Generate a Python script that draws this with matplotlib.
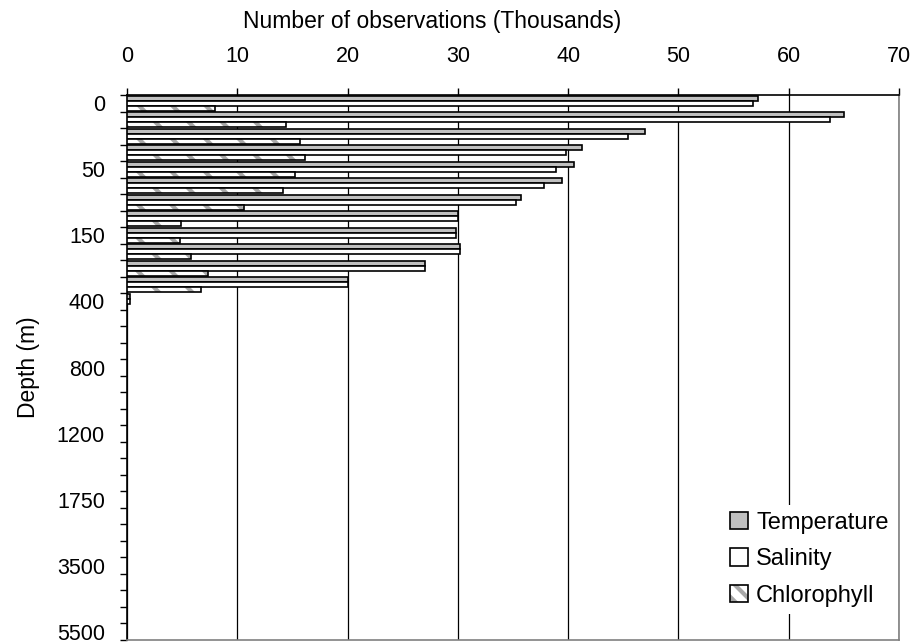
import matplotlib
matplotlib.use("Agg")
import matplotlib.pyplot as plt
import numpy as np
from matplotlib.patches import Patch
from matplotlib.legend_handler import HandlerTuple

plt.rcParams['font.family'] = ['Liberation Sans', 'DejaVu Sans']
plt.rcParams['hatch.linewidth'] = 3.0

depths = [0, 10, 20, 30, 50, 75, 100, 125, 150, 200, 250, 300, 400, 500, 600, 700,
          800, 900, 1000, 1100, 1200, 1300, 1400, 1500, 1750, 2000, 2500, 3000,
          3500, 4000, 4500, 5000, 5500]
temperature = [57.2, 65.0, 47.0, 41.3, 40.5, 39.4, 35.7, 30.0, 29.8, 30.2, 27.0, 20.0,
               0.3] + [0] * 20
salinity = [56.8, 63.7, 45.4, 39.8, 38.9, 37.8, 35.3, 30.0, 29.8, 30.2, 27.0, 20.0,
            0.3] + [0] * 20
chlorophyll = [8.0, 14.4, 15.7, 16.1, 15.2, 14.1, 10.6, 4.9, 4.8, 5.8, 7.3, 6.7,
               0] + [0] * 20
xticks = [0, 10, 20, 30, 40, 50, 60, 70]
label_every = 4

HATCH_COLOR = '#a8a8a8'

fig = plt.figure(figsize=(9.16, 6.44), dpi=100)
ax = fig.add_axes([127 / 916, 4 / 644, 772 / 916, 545 / 644])

n = len(depths)
y = np.arange(n)
h = 0.3
ax.barh(y - 0.3, temperature, height=h, color='#c0c0c0', edgecolor='black', linewidth=1.2, zorder=3)
ax.barh(y, salinity, height=h, color='white', edgecolor='black', linewidth=1.2, zorder=3)
ax.barh(y + 0.3, chlorophyll, height=h, color='white', edgecolor=HATCH_COLOR, hatch='\\',
        linewidth=0, zorder=3)
ax.barh(y + 0.3, chlorophyll, height=h, fill=False, edgecolor='black', linewidth=1.2, zorder=4)

ax.set_xlim(0, 70)
ax.set_ylim(n - 0.5, -0.5)

ax.xaxis.tick_top()
ax.xaxis.set_label_position('top')
ax.set_xticks(xticks)
ax.tick_params(axis='x', which='major', direction='out', length=5, width=1, color='black',
               labelsize=15.5, pad=15)
ax.grid(axis='x', color='black', linewidth=0.9)

ax.set_yticks(np.arange(-0.5, n, 1.0))
ax.set_yticklabels([])
ax.tick_params(axis='y', which='major', direction='out', length=5, width=1, color='black')
ax.set_yticks(y[::label_every], minor=True)
ax.set_yticklabels([str(d) for d in depths[::label_every]], minor=True)
ax.tick_params(axis='y', which='minor', length=0, labelsize=15.5, pad=16)

ax.set_xlabel('Number of observations (Thousands)', fontsize=16.5)
ax.xaxis.set_label_coords(0.395, 1.123)
ax.set_ylabel('Depth (m)', fontsize=16.5)
ax.yaxis.set_label_coords(-0.113, 0.5)

for s in ['top', 'left']:
    ax.spines[s].set_color('black')
    ax.spines[s].set_linewidth(1.2)
for s in ['right', 'bottom']:
    ax.spines[s].set_color('#808080')
    ax.spines[s].set_linewidth(1.2)

h_t = Patch(facecolor='#c0c0c0', edgecolor='black', linewidth=1.2)
h_s = Patch(facecolor='white', edgecolor='black', linewidth=1.2)
h_c1 = Patch(facecolor='white', edgecolor=HATCH_COLOR, hatch='\\\\', linewidth=0)
h_c2 = Patch(fill=False, edgecolor='black', linewidth=1.2)
leg = ax.legend([h_t, h_s, (h_c1, h_c2)], ['Temperature', 'Salinity', 'Chlorophyll'],
                handler_map={tuple: HandlerTuple(ndivide=1)},
                loc='lower right', bbox_to_anchor=(1.011, 0.026), fontsize=17,
                frameon=True, fancybox=False, edgecolor='none', facecolor='white',
                framealpha=1, handlelength=0.75, handleheight=0.75, handletextpad=0.35,
                labelspacing=0.62, borderpad=0.3)
leg.set_zorder(2.4)

fig.savefig('out.png', dpi=100)
